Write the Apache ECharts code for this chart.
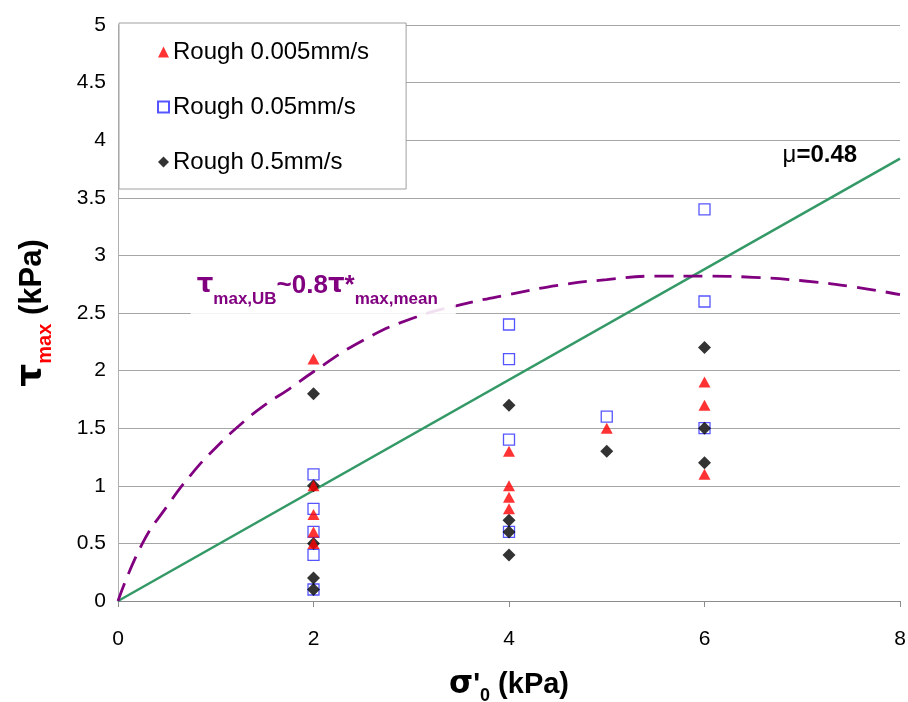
<!DOCTYPE html>
<html>
<head>
<meta charset="utf-8">
<script src="https://cdn.jsdelivr.net/npm/echarts@6/dist/echarts.min.js"></script>
<style>
  html, body { margin: 0; padding: 0; background: #fff; overflow: hidden; }
  #chart { position: absolute; left: 0; top: 0; width: 908px; height: 702px; }
</style>
</head>
<body>
<div id="chart"></div>
<script>
// Peak shear stress tests, grouped by shearing rate
const seriesNames = ['Rough 0.005mm/s', 'Rough 0.05mm/s', 'Rough 0.5mm/s'];

// [σ'0 (kPa), τmax (kPa)]
const rough0005 = [
  [2, 2.1], [2, 1.0], [2, 0.75], [2, 0.6], [2, 0.5],
  [4, 1.3], [4, 1.0], [4, 0.9], [4, 0.8],
  [5, 1.5],
  [6, 1.9], [6, 1.7], [6, 1.1]
];
const rough005 = [
  [2, 1.1], [2, 0.8], [2, 0.6], [2, 0.4], [2, 0.1],
  [4, 2.4], [4, 2.1], [4, 1.4], [4, 0.6],
  [5, 1.6],
  [6, 3.4], [6, 2.6], [6, 1.5]
];
const rough05 = [
  [2, 1.8], [2, 1.0], [2, 0.5], [2, 0.2], [2, 0.1],
  [4, 1.7], [4, 0.7], [4, 0.6], [4, 0.4],
  [5, 1.3],
  [6, 2.2], [6, 1.5], [6, 1.2]
];

// Friction line μ = 0.48
const frictionLine = [[0, 0], [8, 3.84]];

// Upper-bound curve τmax,UB ~ 0.8 τ*max,mean
const upperBound = [
  [0, 0], [0.25, 0.5], [0.5, 0.82], [0.75, 1.1], [1, 1.33], [1.25, 1.53],
  [1.5, 1.7], [1.75, 1.84], [2, 1.99], [2.5, 2.26], [3, 2.45], [3.5, 2.57],
  [4, 2.66], [4.5, 2.74], [5, 2.79], [5.5, 2.82], [6, 2.82], [6.5, 2.81],
  [7, 2.78], [7.5, 2.73], [8, 2.66]
];

const xTicks = [0, 2, 4, 6, 8];
const yTicks = [0, 0.5, 1, 1.5, 2, 2.5, 3, 3.5, 4, 4.5, 5];

const FONT = '"Liberation Sans", Arial, sans-serif';
const GREEK = '"DejaVu Sans", sans-serif';
const chart = echarts.init(document.getElementById('chart'), null, { renderer: 'canvas' });

chart.setOption({
  animation: false,
  backgroundColor: '#ffffff',
  textStyle: { fontFamily: FONT },
  grid: { left: 118, right: 8, top: 25, bottom: 101, containLabel: false, outerBoundsMode: 'none' },
  legend: {
    data: seriesNames,
    orient: 'vertical',
    left: 119,
    top: 23,
    padding: [17, 37, 15, 38],
    itemGap: 31,
    itemWidth: 11,
    itemHeight: 11,
    backgroundColor: '#ffffff',
    borderColor: '#a0a0a0',
    borderWidth: 1,
    textStyle: { fontFamily: FONT, fontSize: 24, color: '#000', lineHeight: 22, padding: [0, 0, 0, -1] }
  },
  xAxis: {
    type: 'value',
    min: xTicks[0],
    max: xTicks[xTicks.length - 1],
    interval: 2,
    splitLine: { show: false },
    axisLine: { lineStyle: { color: '#8c8c8c', width: 1 } },
    axisTick: { show: true, length: 6, lineStyle: { color: '#8c8c8c' } },
    axisLabel: { fontFamily: FONT, fontSize: 21, color: '#000', margin: 28 },
    name: "{g|σ}{t|'}{s|0}{t| (kPa)}",
    nameLocation: 'middle',
    nameGap: 64,
    nameTextStyle: {
      rich: {
        g: { fontFamily: GREEK, fontSize: 31, fontWeight: 'bold', color: '#000', lineHeight: 40, verticalAlign: 'middle' },
        t: { fontFamily: FONT, fontSize: 29, fontWeight: 'bold', color: '#000', lineHeight: 40, verticalAlign: 'middle' },
        s: { fontFamily: FONT, fontSize: 18, fontWeight: 'bold', color: '#000', lineHeight: 18, verticalAlign: 'bottom' }
      }
    }
  },
  yAxis: {
    type: 'value',
    min: yTicks[0],
    max: yTicks[yTicks.length - 1],
    interval: 0.5,
    splitLine: { show: true, lineStyle: { color: '#a6a6a6', width: 1 } },
    axisLine: { show: true, lineStyle: { color: '#b0b0b0', width: 1 } },
    axisTick: { show: false },
    axisLabel: { fontFamily: FONT, fontSize: 21, color: '#000', margin: 12 },
    name: '{g|τ}{s|max}{t| (kPa)}',
    nameLocation: 'middle',
    nameRotate: 90,
    nameGap: 63,
    nameTextStyle: {
      rich: {
        g: { fontFamily: GREEK, fontSize: 36, fontWeight: 'bold', color: '#000', lineHeight: 46, verticalAlign: 'middle' },
        t: { fontFamily: FONT, fontSize: 31, fontWeight: 'bold', color: '#000', lineHeight: 46, verticalAlign: 'middle' },
        s: { fontFamily: FONT, fontSize: 20, fontWeight: 'bold', color: '#ff0000', lineHeight: 20, verticalAlign: 'bottom' }
      }
    }
  },
  series: [
    {
      name: 'friction',
      type: 'line',
      data: frictionLine,
      symbol: 'none',
      lineStyle: { color: '#339966', width: 2.5 },
      z: 2,
      markPoint: {
        symbol: 'rect',
        symbolSize: 0,
        data: [{ coord: [7.18, 3.87] }],
        label: {
          show: true,
          position: 'inside',
          formatter: '{m|μ}{b|=0.48}',
          rich: {
            m: { fontFamily: FONT, fontSize: 24, color: '#000' },
            b: { fontFamily: FONT, fontSize: 24, fontWeight: 'bold', color: '#000' }
          }
        }
      }
    },
    {
      name: 'upper',
      type: 'line',
      data: upperBound,
      smooth: true,
      symbol: 'none',
      lineStyle: { color: '#800080', width: 2.8, type: [19, 10] },
      z: 2
    },
    {
      name: 'label',
      type: 'scatter',
      data: [],
      silent: true,
      markPoint: {
        symbol: 'rect',
        symbolSize: 0,
        z: 3,
        data: [{ coord: [2.1, 2.73] }],
        label: {
          show: true,
          position: 'inside',
          backgroundColor: 'rgba(255,255,255,0.88)',
          padding: [6, 18, 8, 6],
          formatter: '{g|τ}{s|max,UB}{t|~0.8}{g|τ}{t|*}{s|max,mean}',
          rich: {
            t: { fontFamily: FONT, fontSize: 26, fontWeight: 'bold', color: '#800080', lineHeight: 44, verticalAlign: 'middle' },
            g: { fontFamily: GREEK, fontSize: 26, fontWeight: 'bold', color: '#800080', lineHeight: 44, verticalAlign: 'middle' },
            s: { fontFamily: FONT, fontSize: 17, fontWeight: 'bold', color: '#800080', lineHeight: 17, verticalAlign: 'bottom' }
          }
        }
      }
    },
    {
      name: seriesNames[1],
      type: 'scatter',
      data: rough005,
      symbol: 'rect',
      symbolSize: 11,
      itemStyle: { color: '#ffffff', borderColor: '#2b2bff', borderWidth: 1.3 },
      z: 4
    },
    {
      name: seriesNames[2],
      type: 'scatter',
      data: rough05,
      symbol: 'diamond',
      symbolSize: [13, 13],
      itemStyle: { color: '#000000' },
      z: 5
    },
    {
      name: seriesNames[0],
      type: 'scatter',
      data: rough0005,
      symbol: 'triangle',
      symbolSize: [12, 11],
      itemStyle: { color: '#ff0000' },
      z: 6
    }
  ]
});
</script>
</body>
</html>
